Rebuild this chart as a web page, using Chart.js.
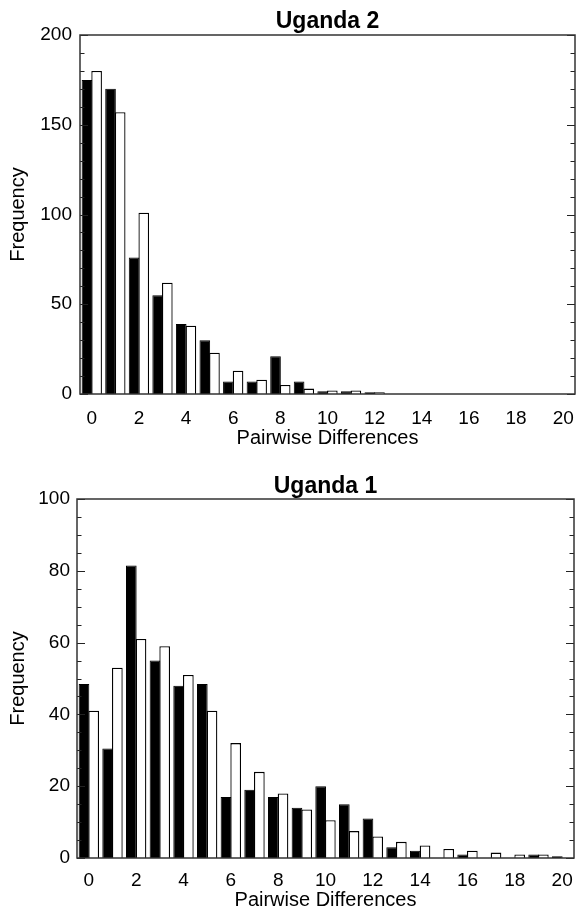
<!DOCTYPE html>
<html>
<head>
<meta charset="utf-8">
<script src="https://cdn.jsdelivr.net/npm/chart.js@4.4.0/dist/chart.umd.min.js"></script>
<style>
    body { margin: 0; background: #fff; }
    .box { position: absolute; left: 0; width: 576px; height: 457px; }
    #top-box { top: 0; }
    #bottom-box { top: 457px; }
</style>
</head>
<body>
<div class="box" id="top-box"><canvas id="uganda2-chart" width="576" height="457"></canvas></div>
<div class="box" id="bottom-box"><canvas id="uganda1-chart" width="576" height="457"></canvas></div>
<script>
const categories = ["0","1","2","3","4","5","6","7","8","9","10","11","12","13","14","15","16","17","18","19","20"];

// Uganda 2 (top)
const uganda2Black = [175, 170, 76, 55, 39, 30, 7, 7, 21, 7, 1.5, 1.5, 1, 0, 0, 0, 0, 0, 0, 0, 0];
const uganda2White = [180, 157, 101, 62, 38, 23, 13, 8, 5, 3, 2, 2, 1, 0, 0, 0, 0, 0, 0, 0, 0];

// Uganda 1 (bottom)
const uganda1Black = [48.5, 30.5, 81.5, 55, 48, 48.5, 17, 19, 17, 14, 20, 15, 11, 3, 2, 0, 1, 0, 0, 1, 0.5];
const uganda1White = [41, 53, 61, 59, 51, 41, 32, 24, 18, 13.5, 10.5, 7.5, 6, 4.5, 3.5, 2.5, 2, 1.5, 1, 1, 0];

const uganda2Ticks = [0, 50, 100, 150, 200];
const uganda1Ticks = [0, 20, 40, 60, 80, 100];

const FONT = "'Liberation Sans', Arial, Helvetica, sans-serif";

// box around the plot, ticks pointing inward on both sides, title over the plot centre
const frameTicks = {
    id: "frameTicks",
    afterDatasetsDraw(chart, args, opts) {
        const { ctx, chartArea } = chart;
        const y = chart.scales.y;
        ctx.save();
        ctx.strokeStyle = "#222";
        ctx.lineWidth = 1;
        for (let v = y.min; v <= y.max; v += opts.minor) {
            const py = Math.round(y.getPixelForValue(v)) + 0.5;
            const len = (v % opts.major === 0) ? 8 : 4.5;
            ctx.beginPath();
            ctx.moveTo(chartArea.left, py);
            ctx.lineTo(chartArea.left + len, py);
            ctx.moveTo(chartArea.right, py);
            ctx.lineTo(chartArea.right - len, py);
            ctx.stroke();
        }
        ctx.strokeStyle = "#333";
        ctx.lineWidth = 1.5;
        ctx.strokeRect(chartArea.left, chartArea.top, chartArea.right - chartArea.left, chartArea.bottom - chartArea.top);

        ctx.fillStyle = "#000";
        ctx.font = "bold 23px " + FONT;
        ctx.textAlign = "center";
        ctx.textBaseline = "middle";
        ctx.fillText(opts.title, (chartArea.left + chartArea.right) / 2, opts.titleY);
        ctx.restore();
    }
};

function makeChart(canvasId, titleText, black, white, yTicks, minorStep, lay) {
    const yMax = yTicks[yTicks.length - 1];
    return new Chart(document.getElementById(canvasId), {
        type: "bar",
        data: {
            labels: categories,
            datasets: [
                { data: black, backgroundColor: "#000", borderColor: "#000", borderWidth: 1 },
                { data: white, backgroundColor: "#fff", borderColor: "#000", borderWidth: 1.3 }
            ]
        },
        options: {
            responsive: false,
            animation: false,
            layout: { padding: { left: 0, right: lay.right, top: lay.top, bottom: lay.bottom } },
            datasets: { bar: { categoryPercentage: 0.82, barPercentage: 1.1 } },
            plugins: {
                legend: { display: false },
                tooltip: { enabled: false },
                title: { display: false },
                frameTicks: { minor: minorStep, major: yTicks[1], title: titleText, titleY: lay.titleY }
            },
            scales: {
                x: {
                    grid: { display: false, drawTicks: false },
                    border: { display: false },
                    ticks: {
                        color: "#000",
                        font: { family: FONT, size: 19 },
                        padding: lay.xPad,
                        autoSkip: false,
                        maxRotation: 0,
                        callback: (val, i) => (i % 2 === 0 ? categories[i] : "")
                    },
                    title: {
                        display: true,
                        text: "Pairwise Differences",
                        color: "#000",
                        font: { family: FONT, size: 20 },
                        padding: { top: 0, bottom: lay.xTitleBottom }
                    },
                    afterFit: s => {
                        s.height = lay.xHeight;
                        s.paddingLeft = 0;
                        s.paddingRight = 0;
                    }
                },
                y: {
                    min: 0,
                    max: yMax,
                    grid: { display: false, drawTicks: false },
                    border: { display: false },
                    ticks: {
                        color: "#000",
                        font: { family: FONT, size: 19 },
                        padding: lay.yPad,
                        stepSize: yTicks[1]
                    },
                    title: {
                        display: true,
                        text: "Frequency",
                        color: "#000",
                        font: { family: FONT, size: 20 },
                        padding: { top: 6, bottom: 0 }
                    },
                    afterFit: s => {
                        s.width = lay.yWidth;
                        s.paddingTop = 0;
                        s.paddingBottom = 0;
                    }
                }
            }
        },
        plugins: [frameTicks]
    });
}

makeChart("uganda2-chart", "Uganda 2", uganda2Black, uganda2White, uganda2Ticks, 10,
    { top: 35, right: 1, bottom: 3, titleY: 22, xPad: 13, xTitleBottom: 4, xHeight: 60, yPad: 8, yWidth: 80 });

makeChart("uganda1-chart", "Uganda 1", uganda1Black, uganda1White, uganda1Ticks, 5,
    { top: 42, right: 2, bottom: 0, titleY: 30, xPad: 11, xTitleBottom: 2, xHeight: 56, yPad: 7, yWidth: 77 });
</script>
</body>
</html>
